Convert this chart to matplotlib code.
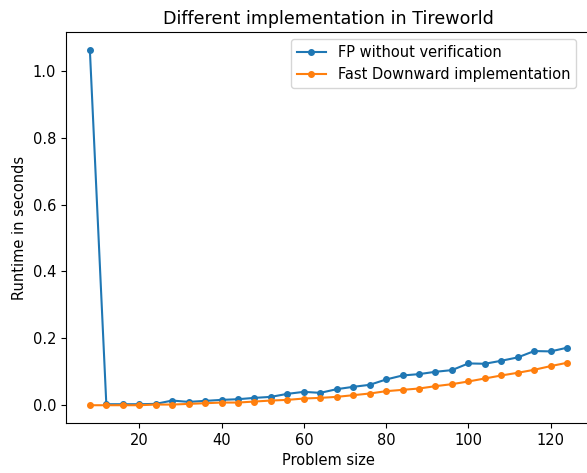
import matplotlib
matplotlib.use("Agg")
import matplotlib.pyplot as plt

# problem sizes and runtimes
sizes = list(range(8, 125, 4))

fp_no_verif = [1.063, 0.003, 0.003, 0.003, 0.004, 0.014, 0.010, 0.013, 0.016, 0.018,
               0.022, 0.025, 0.034, 0.040, 0.037, 0.048, 0.055, 0.061, 0.077, 0.089,
               0.093, 0.100, 0.105, 0.125, 0.124, 0.133, 0.143, 0.162, 0.161, 0.172]

fast_downward = [0.000, 0.000, 0.000, 0.000, 0.002, 0.002, 0.004, 0.006, 0.008, 0.008,
                 0.011, 0.014, 0.016, 0.020, 0.022, 0.025, 0.030, 0.035, 0.042, 0.046,
                 0.050, 0.057, 0.063, 0.071, 0.080, 0.089, 0.097, 0.106, 0.117, 0.127]

plt.rcParams["font.size"] = 10.5

fig = plt.figure(figsize=(5.87, 4.73), dpi=100)
# the reference is cropped on the right, so the axes run slightly past the edge
ax = fig.add_axes([66 / 587, 50 / 473, 525 / 587, 391 / 473])

ax.plot(sizes, fp_no_verif, marker="o", markersize=4, label="FP without verification")
ax.plot(sizes, fast_downward, marker="o", markersize=4, label="Fast Downward implementation")

ax.set_title("Different implementation in Tireworld")
ax.set_xlabel("Problem size")
ax.set_ylabel("Runtime in seconds")
ax.legend(loc="upper right", bbox_to_anchor=(0.985, 1.0))

fig.savefig("out.png")
